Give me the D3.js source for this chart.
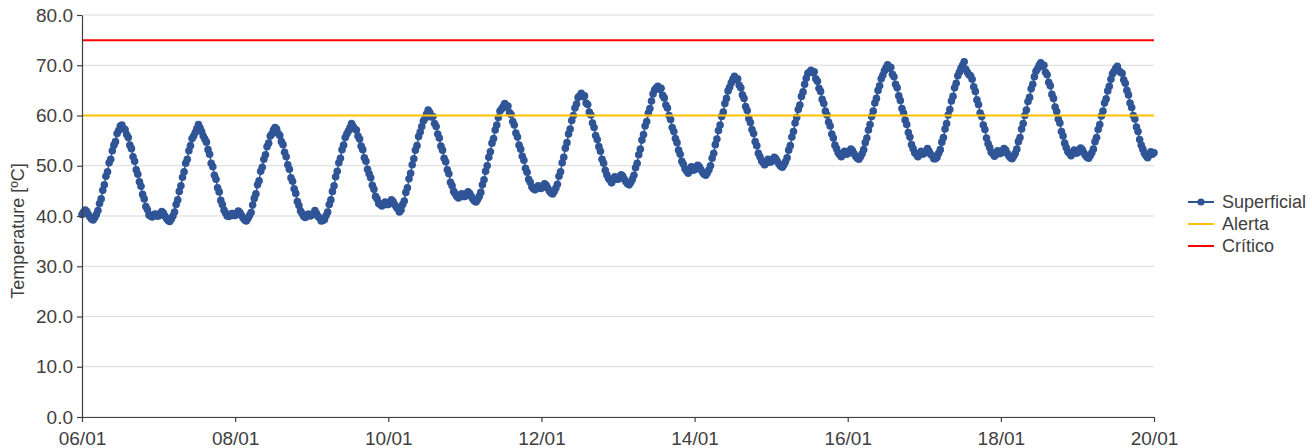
<!DOCTYPE html>
<html>
<head>
<meta charset="utf-8">
<script src="https://cdn.jsdelivr.net/npm/d3@7"></script>
<style>
body { margin: 0; background: #ffffff; }
.frame text { font-family: "Liberation Sans", Arial, sans-serif; fill: #404040; }
</style>
</head>
<body>
<div id="chart"></div>
<script>
// readings every 30 min, starting 06/01 00:00
const START_DATE = new Date(2023, 0, 6, 0, 0);
const STEP_MINUTES = 30;

const day06 = [40.3, 40.8, 41.2, 40.9, 40.3, 39.8, 39.4, 39.2, 39.7, 40.3, 41.1, 42.5, 43.4, 45.1, 46.2, 47.9, 48.8, 50.6, 51.3, 53.0, 54.1, 54.8, 56.4, 57.0, 57.9, 58.1, 57.4, 57.2, 56.2, 55.6, 54.1, 53.4, 51.8, 50.9, 49.2, 48.3, 46.8, 45.9, 44.3, 43.4, 41.9, 41.3, 40.2, 40.0, 39.8, 40.3, 40.4, 40.0];
const day07 = [40.0, 40.5, 40.9, 40.6, 40.0, 39.5, 39.1, 38.9, 39.4, 40.0, 40.8, 42.3, 43.2, 44.9, 46.0, 47.7, 48.8, 50.5, 51.3, 53.0, 54.0, 55.4, 55.9, 56.6, 57.4, 58.2, 57.5, 56.8, 55.9, 55.3, 54.7, 53.2, 52.3, 50.5, 49.8, 48.1, 47.3, 45.6, 44.8, 43.1, 42.3, 41.2, 40.6, 40.0, 39.9, 40.3, 40.5, 40.1];
const day08 = [40.1, 40.6, 41.0, 40.7, 40.1, 39.6, 39.2, 39.0, 39.5, 40.1, 40.7, 42.2, 43.5, 44.4, 46.2, 47.0, 48.9, 49.7, 51.3, 52.2, 53.8, 54.5, 55.9, 56.3, 57.1, 57.6, 57.3, 56.4, 56.0, 54.8, 54.2, 52.7, 51.8, 50.2, 49.3, 47.6, 46.9, 45.4, 44.5, 42.9, 42.1, 41.0, 40.5, 39.9, 39.7, 40.2, 40.4, 40.0];
const day09 = [40.2, 40.4, 41.1, 40.5, 39.9, 39.6, 39.0, 39.1, 39.3, 40.1, 40.8, 42.3, 43.2, 44.9, 46.0, 47.8, 48.9, 50.6, 51.5, 53.2, 54.1, 55.6, 56.3, 56.9, 57.6, 58.4, 57.8, 57.3, 57.1, 55.9, 55.3, 53.9, 53.2, 51.6, 50.9, 49.3, 48.4, 47.6, 46.1, 45.3, 43.9, 43.4, 42.5, 42.3, 42.0, 42.5, 42.8, 42.3];
const day10 = [42.3, 42.8, 43.2, 42.9, 42.3, 41.8, 41.4, 40.8, 41.2, 42.3, 43.0, 44.7, 45.6, 47.4, 48.5, 50.2, 51.4, 53.1, 54.0, 55.8, 56.7, 57.8, 58.9, 59.4, 60.3, 61.1, 60.6, 59.7, 59.8, 58.4, 57.8, 56.3, 55.5, 53.9, 53.1, 51.5, 50.8, 49.2, 48.4, 46.7, 46.0, 44.9, 44.4, 43.9, 43.6, 44.1, 44.4, 43.9];
const day11 = [43.9, 44.4, 44.8, 44.5, 43.9, 43.4, 43.0, 42.8, 43.3, 43.9, 44.7, 46.2, 47.2, 48.9, 50.0, 51.7, 52.8, 54.5, 55.4, 57.1, 58.1, 59.6, 60.9, 61.3, 61.8, 62.4, 61.7, 61.9, 60.6, 60.2, 58.8, 58.1, 56.5, 55.7, 54.1, 53.3, 51.9, 51.1, 49.5, 48.7, 47.3, 46.7, 45.8, 45.4, 45.2, 45.7, 46.0, 45.5];
const day12 = [45.5, 46.0, 46.4, 46.1, 45.5, 45.0, 44.6, 44.4, 44.9, 45.5, 46.3, 47.9, 48.8, 50.6, 51.7, 53.5, 54.6, 56.3, 57.3, 59.0, 60.0, 61.5, 62.3, 63.6, 63.9, 64.4, 63.8, 63.9, 62.5, 62.2, 60.7, 60.1, 58.5, 57.6, 56.0, 55.2, 53.8, 52.9, 51.3, 50.5, 49.1, 48.2, 47.5, 47.1, 46.6, 47.2, 47.8, 47.3];
const day13 = [47.3, 47.8, 48.2, 47.9, 47.3, 46.8, 46.4, 46.2, 46.7, 47.3, 48.1, 49.6, 50.5, 52.2, 53.3, 55.1, 56.2, 57.9, 58.8, 60.5, 61.4, 62.9, 64.3, 65.1, 65.5, 65.8, 65.2, 65.4, 64.0, 63.5, 62.1, 61.5, 60.0, 59.2, 57.6, 56.8, 55.4, 54.6, 53.1, 52.3, 50.9, 50.3, 49.4, 49.0, 48.5, 49.2, 49.8, 49.1];
const day14 = [49.2, 49.7, 50.1, 49.8, 49.2, 48.7, 48.3, 48.1, 48.6, 49.2, 50.0, 51.5, 52.5, 54.2, 55.3, 57.0, 58.1, 59.8, 60.7, 62.4, 63.4, 64.9, 65.6, 66.5, 67.2, 67.8, 67.1, 67.3, 66.0, 65.5, 64.1, 63.4, 61.8, 61.0, 59.4, 58.6, 57.2, 56.4, 54.8, 54.0, 52.5, 51.8, 51.0, 50.6, 50.2, 50.8, 51.3, 50.7];
const day15 = [50.8, 51.3, 51.7, 51.4, 50.8, 50.3, 49.9, 49.7, 50.2, 50.8, 51.6, 53.1, 54.0, 55.7, 56.8, 58.5, 59.6, 61.2, 62.1, 63.8, 64.7, 66.2, 67.4, 68.4, 68.6, 69.0, 68.5, 68.7, 67.3, 66.8, 65.4, 64.8, 63.2, 62.4, 60.9, 60.1, 58.7, 57.9, 56.3, 55.5, 54.1, 53.4, 52.6, 52.2, 51.8, 52.4, 52.9, 52.3];
const day16 = [52.4, 52.9, 53.3, 53.0, 52.4, 51.9, 51.5, 51.3, 51.8, 52.4, 53.2, 54.6, 55.5, 57.1, 58.2, 59.8, 60.9, 62.5, 63.4, 65.0, 65.9, 67.3, 68.0, 68.9, 69.5, 70.1, 69.4, 69.6, 68.2, 67.7, 66.2, 65.5, 63.9, 63.0, 61.4, 60.5, 59.1, 58.2, 56.6, 55.7, 54.2, 53.4, 52.6, 52.3, 51.8, 52.4, 52.9, 52.3];
const day17 = [52.5, 52.7, 53.4, 52.9, 52.3, 52.0, 51.4, 51.4, 51.7, 52.5, 53.2, 54.7, 55.6, 57.3, 58.4, 60.1, 61.2, 62.9, 63.8, 65.5, 66.4, 67.9, 68.6, 69.4, 70.0, 70.7, 69.2, 68.6, 68.1, 67.9, 67.2, 65.7, 64.8, 63.1, 62.2, 60.5, 59.8, 58.1, 57.2, 55.5, 54.4, 53.6, 52.7, 52.4, 51.9, 52.5, 53.0, 52.4];
const day18 = [52.5, 53.0, 53.4, 53.1, 52.5, 52.0, 51.6, 51.4, 51.9, 52.5, 53.3, 54.8, 55.6, 57.3, 58.4, 60.0, 61.1, 62.8, 63.6, 65.3, 66.2, 67.7, 68.8, 69.3, 70.0, 70.5, 69.8, 70.0, 68.6, 68.1, 66.6, 65.9, 64.2, 63.4, 61.7, 60.8, 59.3, 58.5, 56.8, 55.9, 54.5, 53.6, 52.8, 52.5, 52.0, 52.6, 53.1, 52.5];
const day19 = [52.6, 53.1, 53.5, 53.2, 52.6, 52.1, 51.7, 51.5, 52.0, 52.6, 53.3, 54.8, 55.6, 57.2, 58.2, 59.9, 60.9, 62.5, 63.3, 64.9, 65.8, 67.2, 68.3, 68.8, 69.4, 69.8, 68.9, 68.6, 68.4, 67.1, 66.4, 65.0, 64.1, 62.5, 61.6, 60.0, 59.3, 57.7, 56.8, 55.2, 54.1, 53.3, 52.5, 52.0, 51.6, 52.1, 52.8, 52.3];
const day20 = [52.6];

const SUPERFICIAL = [].concat(day06, day07, day08, day09, day10, day11, day12, day13, day14, day15, day16, day17, day18, day19, day20);

// threshold lines
const ALERT_VALUE = 60;
const CRITICAL_VALUE = 75;

const X_TICK_DAYS = [6, 8, 10, 12, 14, 16, 18, 20];
const Y_TICKS = [0, 10, 20, 30, 40, 50, 60, 70, 80];
const LEGEND_LABELS = ["Superficial", "Alerta", "Crítico"];

// frame
const FRAME_HEIGHT = 448;
const FRAME_WIDTH = 1312;
const MARGINS = {left: 82, right: 158, top: 15, bottom: 31};
const VIS_HEIGHT = FRAME_HEIGHT - MARGINS.top - MARGINS.bottom;
const VIS_WIDTH = FRAME_WIDTH - MARGINS.left - MARGINS.right;

const BLUE = "#2f5597";
const YELLOW = "#ffc000";
const RED = "#ff0000";

const FRAME = d3.select("#chart")
				.append("svg")
					.attr("width", FRAME_WIDTH)
					.attr("height", FRAME_HEIGHT)
					.attr("class", "frame");

const data = SUPERFICIAL.map((v, i) => {
	return {t: d3.timeMinute.offset(START_DATE, i * STEP_MINUTES), v: v};
});

const X_TICKS = X_TICK_DAYS.map((d) => new Date(2023, 0, d));

// scales
const X_SCALE = d3.scaleTime()
					.domain([START_DATE, data[data.length - 1].t])
					.range([0, VIS_WIDTH]);

const Y_SCALE = d3.scaleLinear()
					.domain([0, 80])
					.range([VIS_HEIGHT, 0]);

const PLOT = FRAME.append("g")
				.attr("transform", "translate(" + MARGINS.left + "," + MARGINS.top + ")");

// gridlines
PLOT.selectAll(".grid")
	.data(Y_TICKS)
	.enter()
	.append("line")
		.attr("x1", 0)
		.attr("x2", VIS_WIDTH)
		.attr("y1", (d) => Y_SCALE(d))
		.attr("y2", (d) => Y_SCALE(d))
		.attr("stroke", "#d9d9d9")
		.attr("stroke-width", 1);

// series line + points
const LINE = d3.line()
				.x((d) => X_SCALE(d.t))
				.y((d) => Y_SCALE(d.v));

PLOT.append("path")
	.datum(data)
	.attr("d", LINE)
	.attr("fill", "none")
	.attr("stroke", BLUE)
	.attr("stroke-width", 1.5);

PLOT.selectAll(".point")
	.data(data)
	.enter()
	.append("circle")
		.attr("cx", (d) => X_SCALE(d.t))
		.attr("cy", (d) => Y_SCALE(d.v))
		.attr("r", 3.8)
		.attr("fill", BLUE);

// alert / critical
[[ALERT_VALUE, YELLOW], [CRITICAL_VALUE, RED]].forEach((p) => {
	PLOT.append("line")
		.attr("x1", 0)
		.attr("x2", VIS_WIDTH)
		.attr("y1", Y_SCALE(p[0]))
		.attr("y2", Y_SCALE(p[0]))
		.attr("stroke", p[1])
		.attr("stroke-width", 2);
});

// axes
const xAxis = PLOT.append("g")
				.attr("transform", "translate(0," + VIS_HEIGHT + ")")
				.call(d3.axisBottom(X_SCALE)
						.tickValues(X_TICKS)
						.tickFormat(d3.timeFormat("%d/%m"))
						.tickSize(5)
						.tickSizeOuter(0)
						.tickPadding(10));

const yAxis = PLOT.append("g")
				.call(d3.axisLeft(Y_SCALE)
						.tickValues(Y_TICKS)
						.tickFormat(d3.format(".1f"))
						.tickSize(5)
						.tickSizeOuter(0)
						.tickPadding(4));

[xAxis, yAxis].forEach((ax) => {
	ax.selectAll("path, line").attr("stroke", "#404040").attr("stroke-width", 1.2);
	ax.selectAll("text").attr("font-size", "19px").attr("fill", "#404040")
		.style("font-family", "'Liberation Sans', Arial, sans-serif");
});

// y label
FRAME.append("text")
	.attr("transform", "translate(23.5," + (MARGINS.top + VIS_HEIGHT / 2 + 15) + ") rotate(-90)")
	.attr("text-anchor", "middle")
	.attr("font-size", "18px")
	.text("Temperature [ºC]");

// legend
const LEGEND = FRAME.append("g")
				.attr("transform", "translate(1188,202)");

LEGEND_LABELS.forEach((name, i) => {
	const color = [BLUE, YELLOW, RED][i];
	const row = LEGEND.append("g").attr("transform", "translate(0," + (i * 22) + ")");
	row.append("line")
		.attr("x1", 0).attr("x2", 26)
		.attr("stroke", color)
		.attr("stroke-width", 2);
	if (i == 0) {
		row.append("circle").attr("cx", 13).attr("r", 3.6).attr("fill", color);
	}
	row.append("text")
		.attr("x", 34)
		.attr("dy", "0.35em")
		.attr("font-size", "18px")
		.text(name);
});
</script>
</body>
</html>
